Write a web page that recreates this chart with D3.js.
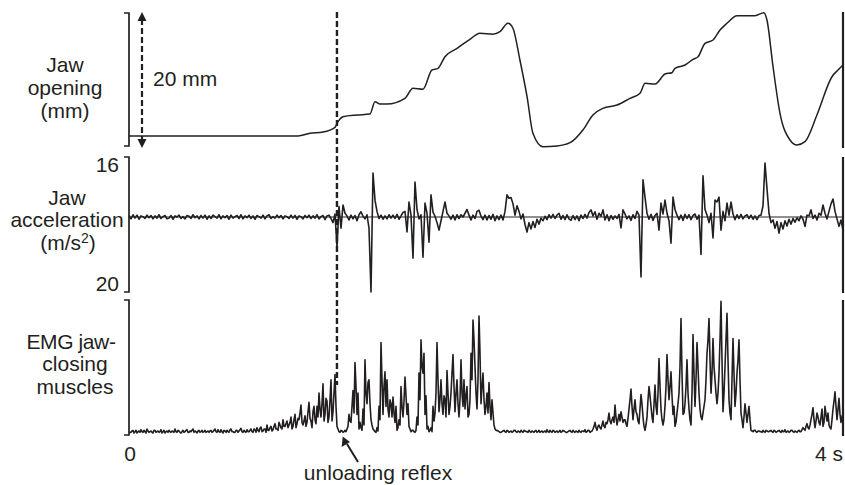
<!DOCTYPE html>
<html>
<head>
<meta charset="utf-8">
<script src="https://cdn.jsdelivr.net/npm/d3@7"></script>
<style>
  body { margin: 0; background: #fff; }
  text { font-family: "Liberation Sans", Arial, sans-serif; font-size: 21px; fill: #231f20; }
</style>
</head>
<body>
<div id="chart"></div>
<script>
// jaw opening trace (s, mm)
const jawT = [0,0.930,0.947,1.014,1.087,1.154,1.171,1.199,1.277,1.350,1.378,1.406,1.445,1.546,1.591,1.647,1.697,1.731,1.770,1.838,1.910,1.966,2.039,2.078,2.123,2.151,2.190,2.230,2.263,2.319,2.398,2.471,2.543,2.599,2.655,2.734,2.807,2.863,2.891,2.947,3.003,3.042,3.059,3.115,3.160,3.188,3.227,3.272,3.311,3.350,3.406,3.507,3.557,3.574,3.608,3.647,3.703,3.742,3.787,3.854,3.938,3.972,4.0];
const jawMM = [1.63,1.63,1.63,2.03,2.22,2.92,3.75,4.49,4.74,4.89,6.71,6.37,6.37,7.21,8.70,8.55,11.41,11.66,13.38,14.62,15.96,16.84,16.70,17.08,18.33,17.59,12.89,7.45,2.03,0.04,0.15,0.64,2.52,4.74,5.73,6.22,7.21,7.96,9.44,9.33,10.81,11.01,11.66,12.15,12.99,13.38,15.36,15.85,17.33,18.33,19.45,19.45,19.90,18.81,11.90,4.99,1.04,0.30,0.79,4.74,10.41,11.41,12.15];

// acceleration (m/s2), sampled evenly over 0-4 s
const accel = [
  0.4,-0.5,0.6,-0.3,0.5,-0.6,0.3,0.1,-0.4,0.5,-0.2,0.4,-0.5,0.3,-0.3,0.6,-0.4,0.1,0.4,-0.5,
  -0.3,0.4,-0.6,0.3,0.0,0.5,-0.4,0.1,-0.5,0.4,0.2,-0.4,0.6,-0.2,0.3,-0.5,0.4,-0.3,0.5,-0.6,
  0.3,-0.4,0.5,0.1,-0.3,0.6,-0.5,0.3,-0.2,0.4,-0.6,0.5,-0.3,0.1,0.4,-0.4,0.6,-0.5,0.3,-0.2,
  0.5,-0.4,0.3,-0.6,0.4,0.1,-0.3,0.5,-0.5,0.3,0.6,-0.4,0.1,-0.3,0.5,-0.2,0.4,-0.5,0.3,0.1,
  -0.4,0.5,-0.3,0.4,-0.6,0.3,0.1,-0.5,0.4,-0.2,0.5,-0.4,0.3,-0.3,0.6,-0.5,0.1,0.4,-0.7,0.3,
  0.5,-0.4,-1.5,0.8,-8.0,2.8,-3.0,3.2,1.0,0.3,-0.8,0.5,-0.5,0.4,-1.0,0.6,1.4,0.2,-0.5,0.6,
  -3.0,-20.0,11.7,4.5,1.5,-0.4,0.5,-0.6,0.3,-0.5,0.6,-0.3,0.5,-0.4,0.7,-0.6,0.3,1.2,1.5,-4.0,
  4.0,0.5,-11.0,9.3,2.0,-0.5,0.6,-10.7,3.7,1.0,-6.7,5.9,1.3,0.2,-1.5,-3.5,-1.0,1.5,4.0,1.0,
  0.3,-0.6,0.5,-0.8,0.6,-0.4,0.6,0.0,1.0,2.0,0.5,-0.8,0.5,-0.4,1.5,1.8,0.2,-0.7,0.5,-0.8,
  0.4,-0.6,0.7,-1.0,0.3,-0.7,0.5,-0.8,1.5,5.9,5.0,5.2,3.5,0.5,3.0,1.5,-0.5,0.8,-2.0,-4.0,
  -1.5,-3.2,-1.2,-2.8,-0.6,-1.9,-0.3,-1.0,0.2,-0.7,0.6,-0.3,0.7,-0.4,0.5,1.0,-0.6,0.4,-0.7,0.6,
  -0.5,-0.9,0.4,-0.7,0.3,-1.0,0.5,-0.4,0.7,-0.3,1.2,1.9,0.3,1.4,-0.6,1.0,0.2,1.9,-0.8,0.6,
  -1.0,0.4,-0.6,0.3,-0.4,0.7,-2.9,1.9,0.8,-0.5,0.3,-0.9,0.6,-0.4,1.5,0.5,-16.0,9.9,5.3,1.0,
  -0.6,0.7,-0.9,0.4,1.0,-3.5,3.7,0.8,4.5,1.0,-1.0,-7.0,5.3,2.0,0.5,-0.7,0.5,-0.9,0.7,-0.4,
  0.6,-0.7,0.4,0.8,-0.6,0.5,-10.0,11.0,2.0,0.5,-1.5,1.0,-5.6,4.5,4.0,5.3,-3.5,1.5,-1.0,3.7,
  0.5,4.0,0.8,-0.7,0.6,-0.4,0.7,-0.5,0.3,0.6,-0.4,0.5,-0.6,0.3,-0.7,0.4,0.5,3.0,14.4,7.5,
  1.0,-1.5,-0.8,-3.0,-1.2,-4.3,-1.5,-3.2,-1.0,-2.4,-0.6,-1.9,-0.4,-1.4,-0.2,-1.0,0.3,-0.6,-2.5,0.5,
  0.3,1.9,-0.4,0.5,-0.8,1.0,0.5,3.2,1.0,-0.5,1.5,3.5,4.8,1.5,-0.5,-2.5,-0.8,-3.5
];

// EMG (% of range): even samples and the samples that fall between them
const emgEven = [
  1,0.5,2,1,0,1.5,2.5,0.5,1,3,0.5,1.5,0,2,1,0.5,2.5,1,0,1.5,
  2,0.5,1,3,0.5,1.5,0,2,1,2.5,0.5,1,3,1.5,0,2,1,0.5,2,1,
  0.5,2,1,3,0.5,1,2.5,0,1.5,2,0.5,3,1,0.5,2,1.5,3.5,0.5,1,2.5,
  1,3,0.5,2.5,4,1,4.5,1.5,3,6,2,5,2.5,7,3,8,4,10,5,9,
  6,12,5,14,7,10,21,6,13,8,23,9,16,10,20,30,12,37,14,24,
  12,40,16,44,5,1,2,0.5,2,3,14,8,32,53,14,3,4,18,55,22,
  40,10,3,1,4,20,68,14,46,40,12,22,27,8,2,10,35,12,42,14,
  5,1,2,0.5,12,45,70,45,14,3,1,4,20,15,68,16,40,14,25,47,
  14,30,59,16,40,12,55,20,18,35,14,60,85,50,18,88,22,45,14,30,
  38,10,15,3,2,1,0.5,1.5,1,2,0.5,1.5,1,2,0.5,1,2,0.5,1.5,1,
  2,0.5,1,1.5,0.5,2,1,0.5,1.5,2.5,0.5,1,2,0.5,1.5,1,0.5,2,1,0.5,
  1.5,1,2,0.5,1,2,0.5,1.5,2.5,1,2,1,3,8,2,6,3,9,4,7,
  15,7,12,21,6,14,16,8,10,5,18,33,10,25,14,7,29,12,2,12,
  35,20,8,36,14,56,18,6,20,59,25,46,14,5,15,30,86,14,22,55,
  18,6,74,20,68,30,12,15,25,60,86,30,71,40,22,45,99,16,50,90,
  25,10,71,20,45,70,15,4,22,8,20,2,1,2,0.5,1.5,1,2,0.5,1.5,
  1,2,0.5,1.5,1,2,0.5,1,2.5,1,0.5,2,1,1.5,0.5,2,1,4,2,7,
  3,10,19,4,15,8,12,5,20,9,6,3,18,31,10,26,8,15
];
const emgOdd = [
  0.5,1.5,0,2,1,0.5,1,2,0,1.5,1,0.5,2,0.5,1.5,1,0,2,1,0.5,
  1,1.5,0.5,1,2,0.5,1,0.5,2,0.5,1.5,2,0.5,1,1.5,0.5,2,1,0.5,1.5,
  1.5,0.5,2,1,2.5,0.5,1,2,0.5,1,2.5,1,0.5,2,0.5,2.5,1,2,0.5,1,
  2,1,3,0.5,2,3.5,1,3,0.5,2,4,1.5,5,3,2,6,3,5,7,4,
  8,3,10,4,11,15,8,9,5,16,11,4,20,7,12,18,22,9,26,8,
  25,9,30,20,3,0.5,1.5,1,1,5,9,20,15,35,30,8,2,6,30,38,
  22,6,2,0.5,1.5,10,40,35,20,18,25,12,15,20,4,6,20,24,28,22,
  3,2,1,2,6,25,50,60,28,5,2,1,9,30,40,25,22,28,12,30,
  20,45,35,30,22,25,30,40,28,12,25,40,70,30,40,60,35,25,20,15,
  20,25,6,2,1.5,0.5,1,2,0.5,1.5,1,0.5,2,1,1.5,0.5,1,2,1,0.5,
  1,1.5,0.5,2,1,0.5,1.5,1,0.5,1,2,0.5,1.5,1,0.5,2,1,1.5,0.5,1,
  2,0.5,1,1.5,0.5,1,1.5,1,0.5,2,0.5,1.5,5,4,5,4,6,5,8,10,
  9,10,8,12,10,9,12,10,7,11,25,20,18,16,9,18,22,5,6,25,
  28,12,22,20,30,35,10,10,35,40,35,28,20,8,22,50,45,15,35,30,
  10,30,45,40,50,18,10,20,40,70,55,45,50,30,30,70,55,30,70,55,
  15,40,45,30,55,40,10,12,15,14,10,1.5,2,1,1.5,1,0.5,1,2,1,
  1.5,1,2,0.5,1.5,1,2,1,0.5,1.5,1,2,0.5,1,1.5,1,2.5,3,5,4,
  6,14,10,9,12,6,18,8,14,15,4,10,24,20,18,14,12
];
const duration = 4;
const reflexTime = 1.165;
const accelTicks = ['16', '20'];

const width = 845, height = 485, ink = '#231f20';

const svg = d3.select('#chart').append('svg')
  .attr('width', width).attr('height', height)
  .attr('viewBox', [0, 0, width, height]);

const x = d3.scaleLinear().domain([0, duration]).range([129, 843]);
const yJaw = d3.scaleLinear().domain([0, 20]).range([147, 12]);
const yAcc = d3.scaleLinear().domain([-20, 16]).range([292, 157]);
const yEmg = d3.scaleLinear().domain([0, 100]).range([433, 300]);

const tOf = (i, n) => i * duration / (n - 1);
const emg = emgEven.flatMap((v, i) => i < emgOdd.length ? [v, emgOdd[i]] : [v]);

// brackets on the left
function bracket(top, bottom) {
  svg.append('path')
    .attr('d', `M${x(0) - 5},${top}H${x(0)}V${bottom}H${x(0) - 5}`)
    .attr('fill', 'none').attr('stroke', ink).attr('stroke-width', 1.7);
}
bracket(yJaw(20) + 1, yJaw(0) - 1);
bracket(yAcc(16), yAcc(-20));
bracket(yEmg(100), yEmg(0) + 2);

// right edge markers
[[yJaw(20), yJaw(0) + 1], [yAcc(16), yAcc(-20) + 1], [yEmg(100), yEmg(0) + 3]].forEach(([a, b]) => {
  svg.append('line').attr('x1', x(duration)).attr('x2', x(duration))
    .attr('y1', a).attr('y2', b).attr('stroke', ink).attr('stroke-width', 2.2);
});

// zero line of acceleration
svg.append('line').attr('x1', x(0)).attr('x2', x(duration))
  .attr('y1', yAcc(0)).attr('y2', yAcc(0)).attr('stroke', ink).attr('stroke-width', 1);

// traces
svg.append('path')
  .datum(jawT.map((t, i) => [t, jawMM[i]]))
  .attr('d', d3.line().x(d => x(d[0])).y(d => yJaw(d[1])).curve(d3.curveMonotoneX))
  .attr('fill', 'none').attr('stroke', ink).attr('stroke-width', 1.5);

svg.append('path')
  .datum(accel)
  .attr('d', d3.line().x((d, i) => x(tOf(i, accel.length))).y(d => yAcc(d)))
  .attr('fill', 'none').attr('stroke', ink).attr('stroke-width', 1.6).attr('stroke-linejoin', 'round');

svg.append('path')
  .datum(emg)
  .attr('d', d3.line().x((d, i) => x(tOf(i, emg.length))).y(d => yEmg(d)))
  .attr('fill', 'none').attr('stroke', ink).attr('stroke-width', 1.6).attr('stroke-linejoin', 'round');

// 20 mm dashed double arrow
const ax = 142;
svg.append('line').attr('x1', ax).attr('x2', ax)
  .attr('y1', yJaw(20) + 7).attr('y2', yJaw(0) - 7)
  .attr('stroke', ink).attr('stroke-width', 2.2).attr('stroke-dasharray', '6,3');
svg.append('path')
  .attr('d', `M${ax},${yJaw(20)}l-4.5,9h9z M${ax},${yJaw(0) + 1}l-4.5,-9h9z`)
  .attr('fill', ink);
svg.append('text').attr('x', 153).attr('y', 86).text('20 mm');

// reflex dashed line
svg.append('line').attr('x1', x(reflexTime)).attr('x2', x(reflexTime))
  .attr('y1', 12).attr('y2', 385)
  .attr('stroke', ink).attr('stroke-width', 2.4).attr('stroke-dasharray', '6,3');

// unloading reflex arrow
svg.append('line').attr('x1', 358).attr('y1', 462).attr('x2', 347).attr('y2', 444)
  .attr('stroke', ink).attr('stroke-width', 2);
svg.append('path')
  .attr('d', 'M342.7,436.5 L341.7,447 L350,442 Z').attr('fill', ink);
svg.append('text').attr('x', 378).attr('y', 480).attr('text-anchor', 'middle').text('unloading reflex');

// axis labels
const lbl = (lines, cx, y0, dy) => lines.forEach((s, i) =>
  svg.append('text').attr('x', cx).attr('y', y0 + i * dy).attr('text-anchor', 'middle').text(s));
lbl(['Jaw', 'opening', '(mm)'], 65, 72, 23);
lbl(['Jaw', 'acceleration'], 67, 205, 22);
const ms = svg.append('text').attr('x', 68).attr('y', 250).attr('text-anchor', 'middle');
ms.append('tspan').text('(m/s');
ms.append('tspan').attr('dy', -7).attr('font-size', 14).text('2');
ms.append('tspan').attr('dy', 7).text(')');
svg.append('text').attr('x', 71).attr('y', 349).attr('text-anchor', 'middle')
  .attr('letter-spacing', -0.4).text('EMG jaw-');
lbl(['closing', 'muscles'], 75, 371, 23);

svg.append('text').attr('x', 119).attr('y', 172).attr('text-anchor', 'end').text(accelTicks[0]);
svg.append('text').attr('x', 119).attr('y', 291).attr('text-anchor', 'end').text(accelTicks[1]);

svg.append('text').attr('x', x(0) + 1).attr('y', 461).attr('text-anchor', 'middle').text('0');
svg.append('text').attr('x', x(duration)).attr('y', 461).attr('text-anchor', 'end').text('4 s');
</script>
</body>
</html>
